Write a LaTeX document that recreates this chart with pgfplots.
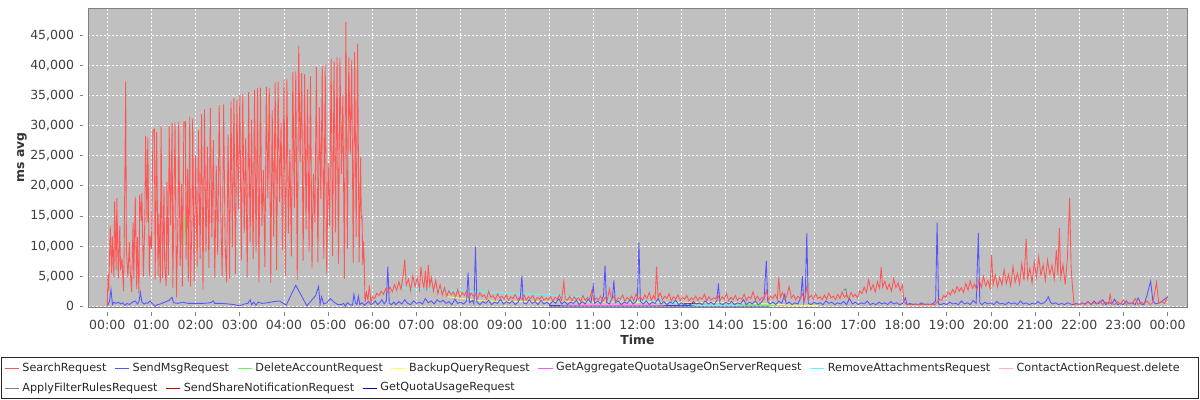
\documentclass[border=0pt]{standalone}
\usepackage{fontspec}
\setmainfont{DejaVu Sans}
\usepackage{pgfplots}
\pgfplotsset{compat=1.18}

\definecolor{plotbg}{HTML}{C0C0C0}
\definecolor{cSearch}{HTML}{FF5555}
\definecolor{cSendMsg}{HTML}{5555FF}
\definecolor{cDelete}{HTML}{55FF55}
\definecolor{cBackup}{HTML}{FFFF55}
\definecolor{cAggr}{HTML}{FF55FF}
\definecolor{cRemove}{HTML}{55FFFF}
\definecolor{cContact}{HTML}{FFAFAF}
\definecolor{cFilter}{HTML}{808080}
\definecolor{cShare}{HTML}{C00000}
\definecolor{cQuota}{HTML}{0000C0}

\begin{document}
\begin{tikzpicture}
\useasboundingbox (-66pt,-69.75pt) rectangle (834pt,230.25pt);
\begin{axis}[
    at={(0,0)}, anchor=south west,
    scale only axis,
    width=824.25pt, height=224.25pt,
    xmin=-26.2, xmax=1466.4,
    ymin=-100, ymax=49500,
    axis background/.style={fill=plotbg},
    axis line style={gray, line width=0.5pt},
    xtick={0,60,...,1440},
    xticklabels={00:00,01:00,02:00,03:00,04:00,05:00,06:00,07:00,08:00,09:00,10:00,11:00,12:00,13:00,14:00,15:00,16:00,17:00,18:00,19:00,20:00,21:00,22:00,23:00,00:00},
    ytick={0,5000,...,45000},
    scaled ticks=false,
    /pgf/number format/.cd, 1000 sep={,}, assume math mode=true, /pgfplots/.cd,
    tick pos=left,
    tick align=outside,
    major tick length=2.7pt,
    xtick style={yshift=-3.75pt, gray, line width=0.5pt},
    ytick style={xshift=-3.4pt, gray, line width=0.5pt},
    grid=major,
    major grid style={white, dash pattern=on 1.5pt off 1.5pt, line width=0.5pt},
    ticklabel style={font=\fontsize{9.4pt}{11pt}\selectfont, text=black!75},
    yticklabel style={anchor=east, inner sep=0pt, xshift=-7.5pt},
    xticklabel style={anchor=north, inner sep=0pt, yshift=-7pt},
    xlabel={Time},
    ylabel={ms avg},
    label style={font=\fontsize{9.3pt}{11pt}\selectfont\bfseries, text=black!80},
    xlabel style={at={(axis description cs:0.5,0)}, anchor=center, yshift=-24.75pt},
    ylabel style={at={(axis description cs:-0.06,0.5)}, anchor=center},
    every axis plot/.append style={line width=0.65pt},
]
% drawn in reverse series order, so SearchRequest ends on top
\addplot[cQuota] table {
600 80
700 60
800 90
900 70
};
\addplot[cShare] table {
783 500
790 450
797 520
804 480
};
\addplot[cFilter] table {
1000 2700
1003 2900
1005 1500
};
\addplot[cContact] table {
640 300
700 250
760 300
};
\addplot[cAggr] table {
620 200
680 150
740 200
};
\addplot[cRemove] table {
400 3100
450 2800
500 2500
550 2200
600 1900
650 1500
700 1100
750 700
790 300
800 150
900 150
};
\addplot[cBackup] table {
462 1600
490 1200
510 900
560 800
650 750
750 700
850 650
900 400
930 200
965 150
};
\addplot[cDelete] table {
104 9800
105 15000
};
\addplot[cDelete] table {
860 200
905 200
};
% SendMsgRequest
\addplot[cSendMsg] table {
0 0
3 800
5 2800
7 300
9 700
12 500
15 700
18 400
21 600
24 200
27 500
30 300
34 700
38 900
41 400
43 800
45 2300
47 700
50 400
53 600
55 500
58 900
61 500
65 0
68 300
72 400
76 600
80 800
84 1000
88 1500
90 600
96 500
102 700
110 500
120 500
130 500
140 600
144 900
146 500
155 500
165 400
172 300
180 100
186 400
191 500
194 1100
196 300
199 700
202 200
205 700
210 500
218 600
226 800
234 900
243 200
256 3500
271 100
283 1800
287 3300
289 300
291 1600
294 400
298 600
303 1300
308 700
313 300
318 300
321 500
323 0
326 600
330 300
333 200
335 2000
337 600
339 300
341 1700
343 300
346 600
349 200
352 500
355 800
358 300
361 500
364 900
367 300
370 600
373 1100
376 400
379 900
381 6600
383 500
386 300
389 700
392 300
396 800
400 400
404 1100
408 500
412 300
416 900
420 500
424 700
428 400
432 1300
436 600
440 900
444 400
448 1100
452 700
456 1000
460 500
464 800
468 300
472 1200
476 500
480 700
484 400
488 900
490 5600
492 600
496 1000
498 400
500 9900
502 700
506 300
510 800
514 500
518 1000
522 300
526 700
530 500
534 1200
538 400
542 800
546 500
550 900
554 300
558 700
561 1500
563 5100
565 600
569 400
573 1100
577 500
581 800
585 300
589 1000
593 400
597 700
601 300
605 900
609 500
613 1300
617 400
621 800
625 300
629 700
633 500
637 1000
641 300
645 800
649 400
653 1200
657 600
660 3500
662 500
666 900
670 400
674 1800
676 6800
678 700
682 400
686 1500
688 4300
690 600
694 900
698 300
702 700
706 500
710 1100
714 400
718 800
720 1500
722 10600
724 800
728 400
732 900
736 300
740 700
744 500
748 1300
752 400
756 800
760 300
764 700
768 500
772 1000
776 300
780 600
784 200
788 500
792 300
796 800
800 400
804 600
808 300
812 900
816 400
820 700
824 300
828 1000
830 3800
832 500
836 300
840 700
844 400
848 800
852 300
856 600
860 400
864 1100
868 300
872 700
876 400
880 900
884 300
888 600
892 1400
895 7600
897 800
900 400
904 700
908 300
912 900
916 500
920 2000
922 400
926 700
930 300
934 600
938 400
942 1500
944 5000
946 600
948 1800
950 12200
952 500
956 300
960 700
964 400
968 600
972 300
976 900
980 500
984 700
988 300
992 600
996 400
1000 800
1004 300
1008 1300
1012 400
1016 700
1020 300
1024 600
1028 400
1032 900
1036 300
1040 500
1044 300
1048 700
1052 400
1056 600
1060 300
1064 800
1068 400
1072 600
1076 300
1080 500
1084 1400
1086 300
1090 500
1094 300
1098 400
1102 300
1106 600
1110 300
1114 400
1118 300
1122 500
1125 900
1127 13900
1129 400
1132 300
1136 500
1140 300
1144 700
1148 400
1152 500
1156 300
1160 900
1164 400
1168 600
1172 300
1176 1000
1180 500
1183 12200
1185 600
1188 300
1192 700
1196 400
1200 600
1204 300
1208 800
1212 400
1216 500
1220 300
1224 700
1228 400
1232 600
1236 300
1240 900
1244 400
1248 600
1252 300
1256 500
1260 400
1264 800
1268 400
1272 600
1275 900
1278 1600
1281 700
1284 400
1288 600
1292 300
1296 500
1300 300
1304 600
1308 400
1312 300
1316 500
1320 300
1324 600
1328 400
1332 800
1336 300
1340 900
1344 400
1348 600
1352 1100
1356 300
1360 700
1364 400
1368 1200
1372 300
1376 500
1380 300
1384 900
1388 400
1392 600
1396 300
1400 1400
1404 400
1408 300
1412 1800
1417 4200
1420 900
1424 400
1428 600
1432 800
1436 1200
1440 1600
};
% SearchRequest
\addplot[cSearch] table {
0 0
1 5300
2 2600
4 13300
6 5500
7 11600
9 4800
10 17400
12 6100
13 17900
15 4600
17 13400
18 6000
20 7900
22 2500
23 9700
25 37400
26 9200
28 4800
30 10700
31 6300
33 2400
35 13900
36 4600
38 18200
40 2900
41 11500
43 2100
44 18500
46 14200
47 18800
49 5000
51 14400
52 28300
54 13900
55 28000
57 4900
58 11700
60 9500
62 29200
64 29400
65 4500
67 28900
69 5100
70 15400
72 3800
73 30000
75 4700
77 19900
78 6700
80 3400
81 20600
83 5200
84 29900
86 13500
88 30400
89 3100
91 21200
92 30500
94 1500
96 14800
97 30600
99 6700
101 20300
102 3300
104 30600
105 30600
106 30600
107 7800
109 22800
110 4100
112 31500
113 3300
115 14500
116 31200
118 4200
120 25000
122 6600
124 29200
126 7900
128 31900
130 2800
132 32700
134 9000
136 26500
138 6400
140 32900
142 11500
144 27600
146 4700
148 23300
150 8500
152 33400
154 15800
156 5000
158 33500
160 10600
162 4000
164 28500
166 4600
168 34100
170 9800
172 34600
174 5400
176 34200
178 16100
180 35100
182 7600
184 35300
186 12200
188 28000
190 4800
192 35600
194 10700
196 31000
198 7800
200 35900
202 9000
204 36200
206 4000
208 36300
210 13300
212 22600
214 6500
216 36400
218 17900
220 36200
222 3900
224 32500
226 11500
228 37100
230 6000
232 37300
234 17300
236 30500
238 9400
240 37600
242 5100
244 37700
246 12100
248 26000
250 8300
252 38800
254 16300
256 39000
258 4400
260 43200
262 23900
264 38700
266 7600
268 38500
270 12800
272 36000
274 9100
276 38200
278 6400
280 22000
282 14000
284 39700
286 7300
288 33000
290 17800
292 39900
294 7900
296 40100
298 5300
300 23800
302 13400
304 41000
306 8400
308 40600
310 12300
312 41400
314 7100
316 41200
318 22000
320 35000
322 4600
324 47200
326 9600
328 41300
330 25300
332 40900
334 7200
336 42200
338 11500
340 43600
342 7300
344 24700
345 14700
346 14900
347 6900
348 10800
349 7200
350 700
352 2300
354 1100
356 3500
358 600
360 1600
363 1300
366 2200
369 1800
372 2500
375 2000
378 2900
381 2300
384 3200
387 2400
390 3600
393 2700
396 4100
399 2800
402 5300
404 7800
406 3500
409 4500
412 2600
415 5100
418 3300
421 4800
424 2800
426 6600
428 4200
430 3100
432 5900
434 2600
436 6900
438 3400
440 4800
443 2500
446 4300
449 2100
452 3600
455 1900
458 3100
461 1700
464 2600
467 1900
470 2400
473 1600
476 2800
479 1500
482 2300
485 1800
488 2600
491 1400
494 2200
497 1700
500 2000
503 1300
506 2300
509 1600
512 1900
515 1200
518 2500
521 1500
524 1800
527 1100
530 2100
533 1400
536 1700
539 1200
542 1900
545 1000
548 1600
551 1300
554 2000
557 1100
560 1500
563 1200
566 1900
569 1000
572 1600
575 1300
578 1800
581 900
584 1500
587 1200
590 1700
593 1000
596 1400
599 1100
602 1600
605 900
608 1500
611 1200
614 1900
617 1000
620 4100
622 1300
625 1000
628 1700
631 900
634 1600
637 1100
640 1400
643 800
646 1800
649 1000
652 1500
655 1200
658 2600
661 900
664 1400
667 1100
670 1700
673 800
676 1500
679 1000
682 2900
685 1100
688 1600
691 900
694 1400
697 1200
700 1900
703 800
706 1500
709 1100
712 1700
715 900
718 2100
721 1200
724 1600
727 1000
730 1900
733 1300
736 2300
739 1000
742 1800
744 1200
746 6600
748 1500
751 2200
754 1100
757 1700
760 1300
763 2100
766 900
769 1600
772 1200
775 1900
778 1000
781 1500
784 1200
787 1800
790 900
793 1400
796 1100
799 1700
802 1000
805 1500
808 1200
811 2000
814 900
817 1600
820 1100
823 1400
826 1300
829 1900
832 1000
835 1600
838 1200
841 2200
844 900
847 1500
850 1100
853 1800
856 1000
859 1400
862 1200
865 2000
868 1000
871 1600
874 1300
877 2400
880 1100
883 1700
886 1000
889 1500
892 1200
895 2600
898 1100
901 1700
904 1300
907 2000
910 1200
912 4800
914 1500
917 2300
920 1200
923 1800
926 3300
929 1400
932 1900
935 1100
938 1700
941 1300
944 2100
947 1000
950 3200
953 1400
956 1800
959 1200
962 2100
965 1300
968 1600
971 1100
974 1900
977 1200
980 2200
983 1400
986 1700
989 1100
992 2000
995 1300
998 2400
1001 1500
1004 1900
1007 1200
1010 2300
1013 1600
1016 2000
1019 1400
1022 2600
1025 2100
1028 3200
1031 2300
1034 4400
1037 2700
1040 3600
1043 2400
1046 4100
1049 3000
1051 6500
1053 3200
1056 4200
1059 2800
1062 3700
1065 2500
1068 4600
1071 3100
1074 3900
1077 2600
1080 3500
1082 700
1085 400
1090 300
1095 400
1100 300
1105 300
1110 400
1115 300
1120 350
1124 300
1127 700
1130 1200
1133 1000
1136 1800
1139 1500
1142 2400
1145 1900
1148 2800
1151 2200
1154 3300
1157 2500
1160 3100
1163 2300
1166 3800
1169 2700
1172 4200
1175 3000
1178 3700
1181 2600
1184 4500
1187 3100
1190 5000
1193 3400
1196 4300
1199 3000
1201 8600
1203 3600
1206 5200
1209 3200
1212 4800
1215 3600
1218 6100
1221 3800
1224 5300
1227 3400
1230 6600
1233 4000
1236 5500
1239 3700
1242 7100
1245 4300
1248 11200
1250 4600
1253 6300
1256 3900
1259 7400
1262 4800
1265 8200
1268 5100
1271 6900
1274 4300
1277 7700
1280 5300
1283 6800
1286 4500
1289 9300
1291 5200
1293 13000
1295 4800
1298 6900
1301 3600
1304 8100
1307 18000
1309 6500
1311 3000
1313 300
1316 400
1320 300
1324 500
1328 300
1332 700
1336 300
1340 600
1344 400
1348 900
1352 300
1356 700
1360 400
1362 2000
1364 500
1368 300
1372 800
1376 400
1380 1100
1384 300
1388 600
1392 400
1396 1300
1400 300
1404 700
1408 400
1412 900
1416 300
1420 600
1425 4000
1428 500
1432 800
1436 500
1440 1600
};
% separate axis lines, set off from the plot area as in the reference
\draw[gray, line width=0.5pt] ([xshift=-3.4pt]rel axis cs:0,0) -- ([xshift=-3.4pt]rel axis cs:0,1);
\draw[gray, line width=0.5pt] ([yshift=-3.75pt]rel axis cs:0,0) -- ([yshift=-3.75pt]rel axis cs:1,0);
\end{axis}
% legend box below the chart
\draw[black!85, line width=0.75pt] (-64.5pt,-37.5pt) rectangle (832.5pt,-68.25pt);
\begin{scope}[line width=0.75pt, every node/.style={anchor=west, inner sep=0pt, xshift=2.2pt, font=\fontsize{8.4pt}{10pt}\selectfont, text=black!85}]
\draw[cSearch] (-62.55pt,-45.75pt) -- ++(10.8pt,0) node (l1) {SearchRequest};
\draw[cSendMsg] ([xshift=6pt]l1.east) -- ++(10.8pt,0) node (l2) {SendMsgRequest};
\draw[cDelete] ([xshift=6pt]l2.east) -- ++(10.8pt,0) node (l3) {DeleteAccountRequest};
\draw[cBackup] ([xshift=6pt]l3.east) -- ++(10.8pt,0) node (l4) {BackupQueryRequest};
\draw[cAggr] ([xshift=6pt]l4.east) -- ++(10.8pt,0) node (l5) {GetAggregateQuotaUsageOnServerRequest};
\draw[cRemove] ([xshift=6pt]l5.east) -- ++(10.8pt,0) node (l6) {RemoveAttachmentsRequest};
\draw[cContact] ([xshift=6pt]l6.east) -- ++(10.8pt,0) node (l7) {ContactActionRequest.delete};
\draw[cFilter] (-62.55pt,-60.75pt) -- ++(10.8pt,0) node (m1) {ApplyFilterRulesRequest};
\draw[cShare] ([xshift=6pt]m1.east) -- ++(10.8pt,0) node (m2) {SendShareNotificationRequest};
\draw[cQuota] ([xshift=6pt]m2.east) -- ++(10.8pt,0) node (m3) {GetQuotaUsageRequest};
\end{scope}
\end{tikzpicture}
\end{document}
